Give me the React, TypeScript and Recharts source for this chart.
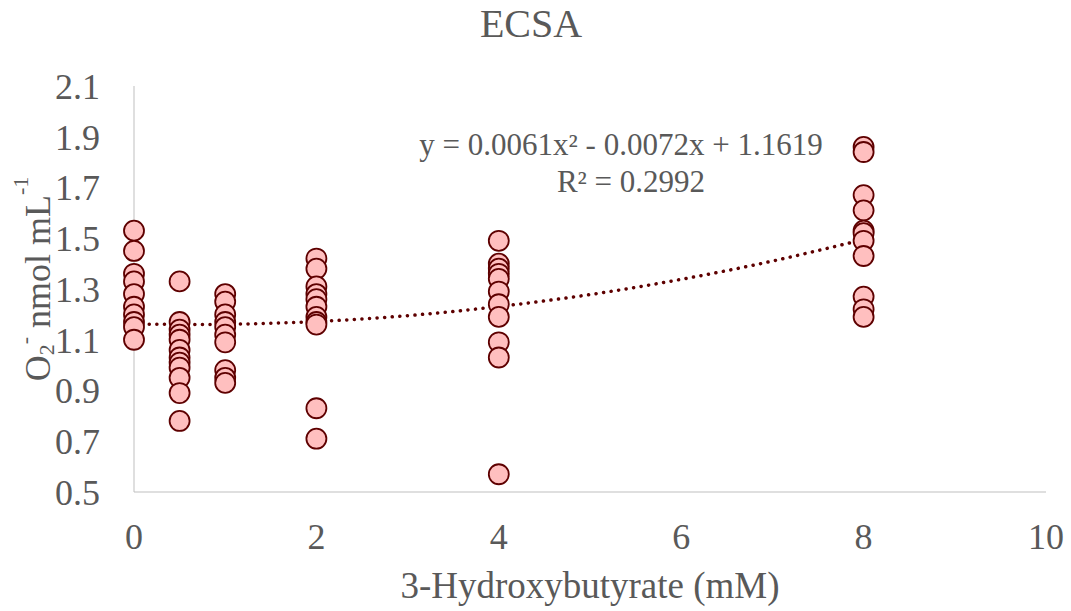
import { ComposedChart, Line, Scatter, XAxis, YAxis } from 'recharts'

// superoxide readings per 3-HB dose (mM)
const DOSES = [0, 0.5, 1, 2, 4, 8]
const O2_DOSE_0 = [1.53, 1.45, 1.36, 1.33, 1.28, 1.23, 1.2, 1.17, 1.15, 1.1]
const O2_DOSE_05 = [1.33, 1.17, 1.14, 1.12, 1.1, 1.06, 1.03, 1.01, 0.99, 0.95, 0.89, 0.78]
const O2_DOSE_1 = [1.28, 1.25, 1.2, 1.17, 1.15, 1.12, 1.09, 0.98, 0.95, 0.93]
const O2_DOSE_2 = [1.42, 1.38, 1.31, 1.28, 1.26, 1.23, 1.19, 1.17, 1.16, 0.83, 0.71]
const O2_DOSE_4 = [1.49, 1.4, 1.38, 1.36, 1.34, 1.29, 1.24, 1.19, 1.09, 1.03, 0.57]
const O2_DOSE_8 = [1.86, 1.84, 1.67, 1.61, 1.53, 1.52, 1.49, 1.43, 1.27, 1.22, 1.19]

// polynomial trendline as drawn in the picture
const TREND_X = [0, 1, 2, 3, 4, 5, 6, 7, 8]
const TREND_Y = [1.162, 1.161, 1.172, 1.195, 1.231, 1.278, 1.338, 1.41, 1.495]

const X_TICKS = [0, 2, 4, 6, 8, 10]
const Y_TICKS = [0.5, 0.7, 0.9, 1.1, 1.3, 1.5, 1.7, 1.9, 2.1]

const FONT = '"Times New Roman", "Liberation Serif", serif'
const TEXT = '#595959'
const AXIS = '#bfbfbf'
const DOT_FILL = '#ffbfbf'
const DOT_STROKE = '#5e0000'
const TREND = '#5e0000'

const columns = [O2_DOSE_0, O2_DOSE_05, O2_DOSE_1, O2_DOSE_2, O2_DOSE_4, O2_DOSE_8]
const points = columns.flatMap((vals, i) => vals.map((y) => ({ x: DOSES[i], y })))
const trend = TREND_X.map((x, i) => ({ x, t: TREND_Y[i] }))

function Dot(props: any) {
  const { cx, cy } = props
  if (cx == null || cy == null) return null
  return <circle cx={cx} cy={cy} r={10} fill={DOT_FILL} stroke={DOT_STROKE} strokeWidth={1.8} />
}

function YLabel() {
  return (
    <text
      transform="translate(50,279) rotate(-90)"
      textAnchor="middle"
      fontFamily={FONT}
      fontSize={36}
      fill={TEXT}
    >
      O<tspan fontSize={22} dy={4}>2</tspan>
      <tspan fontSize={22} dy={-22}>-</tspan>
      <tspan fontSize={36} dy={18}> nmol mL</tspan>
      <tspan fontSize={22} dy={-22}>-1</tspan>
    </text>
  )
}

export default function App() {
  return (
    <div style={{ position: 'absolute', left: 0, top: 0, width: 1071, height: 611, background: '#fff' }}>
      <ComposedChart width={1071} height={611} margin={{ top: 86, right: 25, bottom: 0, left: 0 }}>
        <XAxis
          type="number"
          dataKey="x"
          domain={[0, 10]}
          ticks={X_TICKS}
          height={119}
          stroke={AXIS}
          tickLine={false}
          tickSize={0}
          tickMargin={31}
          tick={{ fill: TEXT, fontSize: 36, fontFamily: FONT }}
        />
        <YAxis
          type="number"
          domain={[0.5, 2.1]}
          ticks={Y_TICKS}
          width={134}
          stroke={AXIS}
          tickLine={false}
          tickSize={0}
          tickMargin={34}
          tick={{ fill: TEXT, fontSize: 36, fontFamily: FONT }}
        />
        <Scatter data={points} dataKey="y" shape={<Dot />} isAnimationActive={false} />
        <Line
          data={trend}
          dataKey="t"
          type="natural"
          stroke={TREND}
          strokeWidth={3.5}
          strokeDasharray="0.1 7.5"
          strokeLinecap="round"
          dot={false}
          activeDot={false}
          isAnimationActive={false}
        />
        <text x={531} y={37} textAnchor="middle" fontFamily={FONT} fontSize={40} fill={TEXT}>
          ECSA
        </text>
        <text x={621} y={155} textAnchor="middle" fontFamily={FONT} fontSize={31} fill={TEXT}>
          y = 0.0061x² - 0.0072x + 1.1619
        </text>
        <text x={631} y={192} textAnchor="middle" fontFamily={FONT} fontSize={31} fill={TEXT}>
          R² = 0.2992
        </text>
        <text x={590} y={598} textAnchor="middle" fontFamily={FONT} fontSize={37} fill={TEXT}>
          3-Hydroxybutyrate (mM)
        </text>
        <YLabel />
      </ComposedChart>
    </div>
  )
}
